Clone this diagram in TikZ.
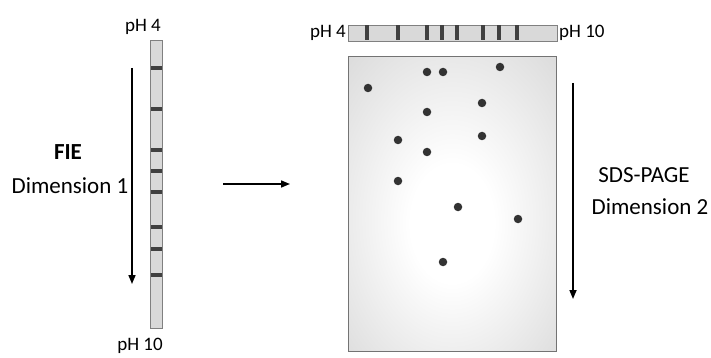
\documentclass[tikz,border=0pt]{standalone}
\usepackage{fontspec}
\setmainfont{Carlito}
\usetikzlibrary{arrows.meta}
\pgfdeclareradialshading{gelshade}{\pgfpoint{0bp}{-4bp}}{color(0bp)=(white); color(10bp)=(white); color(58bp)=(black!25)}
\tikzset{
  px/.style={x=1pt,y=-1pt},
  band/.style={fill=black!75, draw=none},
  stripstyle/.style={draw=black!50, fill=black!15, line width=0.9pt},
  lbl/.style={font=\fontsize{19}{21}\selectfont, inner sep=0pt},
  big/.style={font=\fontsize{23}{26}\selectfont, inner sep=0pt, align=center},
  dir/.style={line width=1.6pt, -{Triangle[length=9pt,width=7pt]}},
  spot/.style={circle, fill=black!80, inner sep=0pt, minimum size=8.5pt},
}
\begin{document}
\begin{tikzpicture}[px]
\useasboundingbox (0,0) rectangle (711,358);
% left strip
\draw[stripstyle] (150,40) rectangle (162,328);
\node[inner sep=0pt] (lstrip) at (156,184) {};
\foreach \y in {68,109,150,171,192,227,249,275}
  \fill[band] (150.5,\y-1.7) rectangle (161.5,\y+1.7);
\node[lbl] (lph4) at (143,27) {pH 4};
\node[lbl] (lph10) at (140,346) {pH 10};
\node[big, font=\fontsize{23}{26}\selectfont\bfseries] (fie) at (68,152) {FIE};
\node[big] (dim1) at (70,186) {Dimension 1};
\coordinate (a1s) at (132,68);
\coordinate (a1e) at (132,284);
\draw[dir] (a1s) -- (a1e);
% middle arrow
\coordinate (m1) at (223,184);
\coordinate (m2) at (290,184);
\draw[dir] (m1) -- (m2);
% gel
\shade[shading=gelshade] (348,57) rectangle (556,351);
\draw[black!55, line width=1pt] (348,57) rectangle (556,351);
\node[inner sep=0pt] (gel) at (452,204) {};
% top strip
\draw[stripstyle] (348,25) rectangle (557,41);
\node[inner sep=0pt] (tstrip) at (452,33) {};
\foreach \x in {367,398,427,442,457,483,499,517}
  \fill[band] (\x-1.8,25.5) rectangle (\x+1.8,40.5);
\node[lbl, anchor=east] (tph4) at (346,33) {pH 4};
\node[lbl, anchor=west] (tph10) at (559,33) {pH 10};
% spots
\foreach \p/\q in {368/88,427/72,443/72,500/67,482/103,427/112,482/136,398/140,427/152,398/181,458/207,518/219,443/262}
  \node[spot] at (\p,\q) {};
% right arrow
\coordinate (r1) at (573,83);
\coordinate (r2) at (573,299);
\draw[dir] (r1) -- (r2);
\node[big] (sds) at (644,175) {SDS-PAGE};
\node[big] (dim2) at (650,207) {Dimension 2};
\end{tikzpicture}
\end{document}
